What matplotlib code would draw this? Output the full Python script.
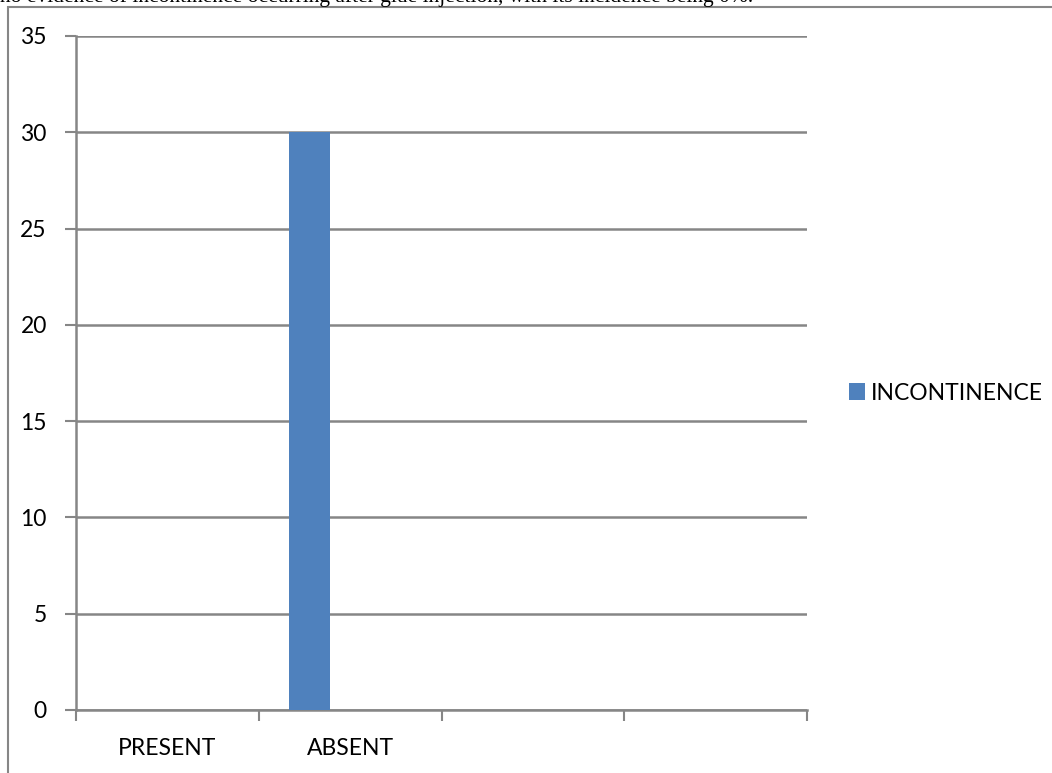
import matplotlib.pyplot as plt
from matplotlib.patches import Rectangle
import numpy as np

# chart data
categories = ['PRESENT', 'ABSENT', '', '']
incontinence = [0, 30, 0, 0]
series_name = 'INCONTINENCE'
y_ticks = [0, 5, 10, 15, 20, 25, 30, 35]
caption = 'no evidence of incontinence occurring after glue injection, with its incidence being 0%.'

W, H = 1052, 773
fig = plt.figure(figsize=(W / 100, H / 100), dpi=100)
ax = fig.add_axes([76 / W, (H - 710) / H, (807 - 76) / W, (710 - 36) / H])

grey = '#868686'
fs = 16.5
# excel clustered layout: 3 series slots, gap width 150%
n_slots = 3
bar_w = 1 / (n_slots + 1.5)
x = np.arange(len(categories))
ax.bar(x - bar_w, incontinence, width=bar_w, color='#4F81BD', label=series_name, zorder=3)

ax.set_xlim(-0.5, len(categories) - 0.5)
ax.set_ylim(0, 35)
ax.set_yticks(y_ticks)
ax.set_yticklabels([str(v) for v in y_ticks])
ax.yaxis.grid(True, color=grey, linewidth=1.8, zorder=0)

ax.set_xticks(np.arange(len(categories) + 1) - 0.5)
ax.set_xticklabels([])
ax.set_xticks(x, minor=True)
ax.set_xticklabels(categories, minor=True)
ax.tick_params(axis='x', which='minor', length=0, pad=20)
ax.tick_params(axis='x', which='major', length=8, width=1.5, color=grey, direction='out')
ax.tick_params(axis='y', length=8, width=1.5, color=grey, direction='out', pad=13)

for lab in ax.get_xticklabels(minor=True) + ax.get_yticklabels():
    lab.set_fontfamily('Lato')
    lab.set_fontsize(fs)

for side in ['top', 'right']:
    ax.spines[side].set_visible(False)
for side in ['left', 'bottom']:
    ax.spines[side].set_color(grey)
    ax.spines[side].set_linewidth(1.8)

leg = fig.legend(loc='center left', bbox_to_anchor=(840 / W, 1 - 393 / H), frameon=False,
                 prop={'family': 'Lato', 'size': fs}, handlelength=0.7, handleheight=0.7,
                 handletextpad=0.25, borderaxespad=0)

# chart frame (cut off at the right and bottom)
fig.patches.append(Rectangle((8 / W, -0.1), 1.2, 1.1 - 7 / H, transform=fig.transFigure,
                             fill=False, edgecolor=grey, linewidth=1.5))

fig.text(0, 1 - 2 / H, caption, family='Liberation Serif', fontsize=15.5, ha='left', va='baseline')

fig.savefig('out.png', dpi=100)
